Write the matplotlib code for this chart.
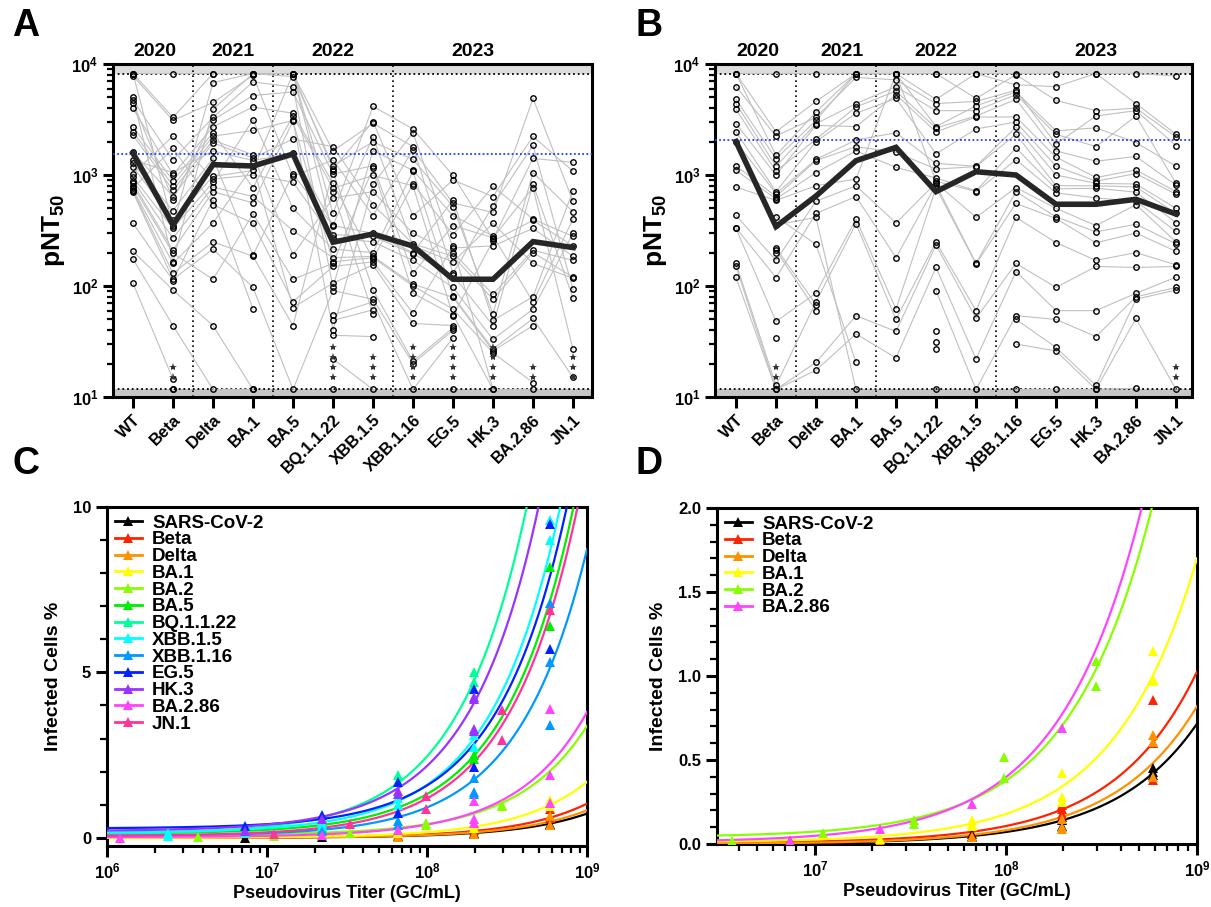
import numpy as np
import matplotlib
matplotlib.use('Agg')
import matplotlib.pyplot as plt
from matplotlib.ticker import LogLocator, NullFormatter, FuncFormatter, MultipleLocator, FixedLocator
from matplotlib.lines import Line2D

plt.rcParams['font.family'] = ['Liberation Sans', 'DejaVu Sans']
plt.rcParams['font.weight'] = 'bold'
plt.rcParams['mathtext.fontset'] = 'custom'
plt.rcParams['mathtext.rm'] = 'Liberation Sans:bold'
plt.rcParams['mathtext.bf'] = 'Liberation Sans:bold'
plt.rcParams['mathtext.it'] = 'Liberation Sans:bold'

N = np.nan
# ---------------- Panels A / B data ----------------
variants = ['WT', 'Beta', 'Delta', 'BA.1', 'BA.5', 'BQ.1.1.22', 'XBB.1.5',
            'XBB.1.16', 'EG.5', 'HK.3', 'BA.2.86', 'JN.1']
years = ['2020', '2021', '2022', '2023']
limit_hi = 8200
limit_lo = 11.7

subjects_A = [
    [8200, 8200, 8200, 8200, 8200, 450, 4150, 2600, 990, 264, 1410, 1300],
    [8200, 3300, 8200, 8200, 8200, 1130, 3030, 430, 900, 640, 2230, 1080],
    [8200, 350, 6800, 8200, 8200, 1650, 2920, 1800, 130, 530, 1850, 93],
    [7800, 3100, 4500, 7900, 970, 1365, 430, 1690, 560, 460, 4900, 580],
    [5000, 166, 3900, 8200, 7700, 1210, 1990, 1380, 520, 56, 1050, 466],
    [4740, 1370, 3300, 6900, 6200, 98, 1660, 1100, 430, 282, 72, 400],
    [4450, 600, 3130, 5200, 5600, 1020, 1210, 130, 350, 272, 770, 27],
    [3990, 1010, 2720, 4100, 3600, 842, 175, 830, 290, 790, 400, 280],
    [2720, 890, 2400, 770, 3400, 760, 990, 800, 54, 255, 390, 230],
    [2450, 800, 2240, 2520, 3100, 40, 830, 2400, 220, 230, 330, 185],
    [2280, 730, 2060, 1520, 190, 620, 708, 298, 200, 84, 210, 170],
    [1600, 640, 1950, 1420, 2110, 1800, 540, 240, 185, 76, 200, 120],
    [1365, 1050, 1650, 1350, 1570, 355, 2200, 230, 165, 367, 160, 117],
    [1270, 477, 1420, 190, 1020, 350, 298, 200, 596, 49, 80, 720],
    [1190, 390, 970, 1100, 8200, 290, 280, 195, 125, 44, 830, 78],
    [1030, 2240, 920, 1000, 860, 270, 250, 170, 97, 33, 62, 298],
    [960, 330, 860, 3150, 500, 215, 200, 1080, 81, 27, 51, 15],
    [890, 270, 780, 640, 315, 180, 185, 104, 79, 26, 44, N],
    [842, 210, 708, 560, 3050, 165, 180, 100, 62, 25, 13.5, N],
    [800, 197, 115, 447, 115, 160, 1150, 86, 55, 11.7, 11.7, N],
    [760, 1740, 540, 367, 72, 150, 165, 57, 228, 11.7, N, N],
    [740, 160, 370, 1200, 64, 106, 155, 46, 44, N, N, N],
    [720, 130, 250, 185, 44, 1080, 92, 21, 42, N, N, N],
    [700, 115, 215, 97, 11.7, 91, 76, 20, 40, N, N, N],
    [367, 112, 600, 62, N, 55, 72, 11.7, 34, N, N, N],
    [205, 92, 44, 11.7, N, 49, 61, N, 11.7, N, N, N],
    [175, 44, 11.7, 11.7, N, 708, 56, N, N, N, N, N],
    [106, 14.5, N, N, N, 36, 35, N, N, N, N, N],
    [N, 11.7, N, N, N, 22, 11.7, N, N, N, N, N],
    [N, 11.7, N, N, N, 11.7, N, N, N, N, N, N],
]
median_A = [1570, 355, 1240, 1205, 1545, 248, 294, 229, 115, 115, 251, 222]
ref_A = 1550
stars_A = [0, 2, 0, 0, 0, 4, 3, 4, 4, 4, 2, 3]

subjects_B = [
    [8200, 8200, 8200, 8200, 8200, 8200, 8200, 8200, 8200, 8200, 8200, 7800],
    [8200, 2450, 4600, 8200, 8200, 4800, 8200, 6500, 6250, 8200, 4400, 2330],
    [8200, 1500, 3700, 8200, 8200, 8200, 4900, 8000, 4700, 3800, 4000, 2200],
    [6250, 2250, 3300, 7570, 7200, 4400, 4600, 5800, 1900, 3400, 3800, 1840],
    [4800, 1400, 3100, 8200, 8200, 2730, 4200, 5600, 2500, 2660, 1960, 1200],
    [4400, 1200, 2900, 4400, 6250, 3800, 3800, 5300, 2330, 1800, 3400, 840],
    [3900, 1080, 2100, 4100, 5700, 2650, 3400, 4800, 1650, 1330, 1470, 810],
    [2900, 1000, 2800, 2730, 5300, 2440, 3330, 3330, 1450, 950, 1110, 708],
    [2450, 708, 2000, 3600, 4900, 1550, 2600, 3000, 1200, 880, 1030, 670],
    [2000, 680, 1380, 2070, 2400, 1270, 1200, 2700, 1000, 840, 830, 500],
    [1210, 640, 1350, 1800, 1600, 1130, 1190, 2330, 800, 800, 780, 450],
    [1100, 610, 1050, 1650, 1170, 940, 720, 1750, 750, 760, 700, 372],
    [780, 590, 800, 920, 8200, 880, 710, 1370, 690, 622, 580, 310],
    [433, 170, 580, 800, 370, 850, 415, 770, 500, 350, 540, 250],
    [335, 119, 450, 640, 180, 820, 160, 708, 420, 307, 360, 240],
    [330, 48, 86, 400, 62, 770, 158, 555, 405, 245, 300, 205],
    [160, 12.7, 72, 365, 50, 250, 60, 415, 246, 170, 200, 155],
    [150, 11.7, 20.5, 54, 39, 234, 51, 160, 97, 150, 147, 150],
    [120, 11.7, 17.4, 37, 22.5, 147, 22, 135, 60, 60, 86, 120],
    [N, 420, 237, 20.5, N, 91, 11.7, 54, 50, 35, 80, 97],
    [N, 355, 415, 11.7, N, 39, N, 50, 28, 12.7, 76, 92],
    [N, 220, 68, N, N, 31, N, 30, 26, 11.7, 51, 11.7],
    [N, 210, 60, N, N, 27, N, 11.7, 11.7, 11.7, 12, N],
    [N, 200, N, N, N, 11.7, N, N, N, N, N, N],
    [N, 34, N, N, N, N, N, N, N, N, N, N],
]
median_B = [2000, 343, 647, 1345, 1775, 708, 1070, 1000, 545, 545, 604, 445]
ref_B = 2050
stars_B = [0, 2, 0, 0, 0, 0, 0, 0, 0, 0, 0, 2]
star_levels = [15.2, 18.7, 23.1, 28.4]

# ---------------- Panels C / D data ----------------
names_C = ['SARS-CoV-2', 'Beta', 'Delta', 'BA.1', 'BA.2', 'BA.5', 'BQ.1.1.22',
           'XBB.1.5', 'XBB.1.16', 'EG.5', 'HK.3', 'BA.2.86', 'JN.1']
colors_C = ['#000000', '#FF2200', '#FF9100', '#FFFF00', '#88FF00', '#00EE00',
            '#00FF99', '#00FFFF', '#0099FF', '#0022FF', '#9933FF', '#FF44FF', '#FF3399']
# fitted linear model: pct = intercept + slope * titer/1e9
intercept_C = [0.0, 0.0, 0.0, 0.0, 0.08, 0.12, 0.1, 0.15, 0.05, 0.28, 0.2, 0.02, 0.05]
slope_C = [0.73, 1.03, 0.83, 1.69, 3.3, 12.0, 23.6, 14.5, 8.67, 13.0, 19.7, 3.78, 11.4]

ptsC_var = [0, 0, 0, 0, 0, 0, 0,
            1, 1, 1, 1,
            2, 2, 2, 2,
            3, 3, 3, 3, 3,
            4, 4, 4, 4, 4, 4, 4,
            5, 5, 5, 5, 5, 5,
            6, 6, 6, 6, 6, 6, 6,
            7, 7, 7, 7, 7, 7, 7, 7, 7, 7, 7,
            8, 8, 8, 8, 8, 8, 8, 8, 8,
            9, 9, 9, 9, 9, 9, 9, 9,
            10, 10, 10, 10, 10, 10, 10, 10,
            11, 11, 11, 11, 11, 11, 11, 11, 11,
            12, 12, 12, 12, 12, 12, 12]
ptsC_titer = [5.9e8, 5.9e8, 1.97e8, 1.97e8, 6.6e7, 2.2e7, 7.3e6,
              5.9e8, 5.9e8, 1.97e8, 6.6e7,
              5.9e8, 5.9e8, 1.97e8, 6.6e7,
              5.9e8, 5.9e8, 1.97e8, 1.97e8, 6.6e7,
              2.95e8, 2.95e8, 9.8e7, 9.8e7, 3.3e7, 1.1e7, 3.7e6,
              5.9e8, 5.9e8, 1.97e8, 1.97e8, 6.6e7, 2.2e7,
              1.97e8, 1.97e8, 6.6e7, 6.6e7, 2.2e7, 7.3e6, 2.4e6,
              5.9e8, 5.9e8, 1.97e8, 1.97e8, 6.6e7, 6.6e7, 2.2e7, 2.2e7, 7.3e6, 2.4e6, 2.4e6,
              5.9e8, 5.9e8, 5.9e8, 1.97e8, 1.97e8, 1.97e8, 6.6e7, 6.6e7, 2.2e7,
              5.9e8, 5.9e8, 1.97e8, 1.97e8, 6.6e7, 6.6e7, 2.2e7, 7.3e6,
              1.97e8, 1.97e8, 1.97e8, 1.97e8, 6.6e7, 6.6e7, 2.2e7, 7.3e6,
              5.9e8, 5.9e8, 5.9e8, 1.97e8, 1.97e8, 1.97e8, 6.6e7, 2.2e7, 1.2e6,
              5.9e8, 2.95e8, 2.95e8, 9.8e7, 9.8e7, 3.3e7, 1.1e7]
ptsC_pct = [0.42, 0.38, 0.15, 0.12, 0.05, 0.02, 0.0,
            0.86, 0.6, 0.22, 0.05,
            0.65, 0.4, 0.1, 0.03,
            1.15, 0.97, 0.42, 0.28, 0.13,
            1.0, 0.95, 0.46, 0.39, 0.14, 0.065, 0.02,
            8.2, 6.4, 2.5, 2.38, 1.0, 0.3,
            5.0, 4.7, 1.9, 1.72, 0.5, 0.2, 0.12,
            9.6, 9.0, 3.1, 2.73, 1.2, 1.0, 0.46, 0.35, 0.15, 0.15, 0.05,
            7.1, 5.3, 3.4, 1.82, 1.37, 1.32, 0.5, 0.4, 0.2,
            9.5, 5.7, 4.5, 2.13, 1.67, 0.76, 0.7, 0.35,
            4.27, 4.2, 3.3, 3.24, 1.42, 1.32, 0.56, 0.2,
            3.9, 1.9, 1.05, 1.11, 0.56, 0.46, 0.24, 0.09, 0.0,
            6.9, 3.85, 2.95, 1.27, 0.86, 0.42, 0.1]

names_D = ['SARS-CoV-2', 'Beta', 'Delta', 'BA.1', 'BA.2', 'BA.2.86']
colors_D = ['#000000', '#FF2200', '#FF9100', '#FFFF00', '#88FF00', '#FF44FF']
intercept_D = [0.0, 0.005, 0.0, 0.01, 0.04, 0.01]
slope_D = [0.716, 1.02, 0.82, 1.69, 3.38, 3.88]

ptsD_var = [0, 0, 0, 0, 0, 0, 0, 0, 0, 0,
            1, 1, 1, 1, 1, 1, 1, 1, 1,
            2, 2, 2, 2, 2, 2, 2, 2,
            3, 3, 3, 3, 3, 3, 3, 3, 3, 3, 3,
            4, 4, 4, 4, 4, 4, 4, 4, 4,
            5, 5, 5, 5]
ptsD_titer = [5.9e8, 5.9e8, 5.9e8, 1.97e8, 1.97e8, 1.97e8, 6.6e7, 6.6e7, 2.2e7, 7.4e6,
              5.9e8, 5.9e8, 5.9e8, 1.97e8, 1.97e8, 1.97e8, 6.6e7, 2.2e7, 7.4e6,
              5.9e8, 5.9e8, 5.9e8, 1.97e8, 1.97e8, 1.97e8, 6.6e7, 2.2e7,
              5.9e8, 5.9e8, 5.9e8, 1.97e8, 1.97e8, 1.97e8, 6.6e7, 6.6e7, 6.6e7, 2.2e7, 7.4e6,
              2.95e8, 2.95e8, 9.8e7, 9.8e7, 3.3e7, 3.3e7, 1.1e7, 3.7e6, 3.7e6,
              1.97e8, 6.6e7, 2.2e7, 7.4e6]
ptsD_pct = [0.45, 0.43, 0.41, 0.16, 0.14, 0.11, 0.06, 0.04, 0.025, 0.015,
            0.86, 0.6, 0.38, 0.23, 0.21, 0.18, 0.05, 0.02, 0.01,
            0.65, 0.61, 0.4, 0.15, 0.1, 0.09, 0.04, 0.01,
            1.15, 0.98, 0.97, 0.42, 0.28, 0.25, 0.14, 0.12, 0.11, 0.03, 0.01,
            1.09, 0.94, 0.52, 0.39, 0.14, 0.12, 0.065, 0.02, 0.01,
            0.69, 0.24, 0.09, 0.02]

# ---------------- Figure ----------------
W, H = 1211, 907
fig = plt.figure(figsize=(W / 100, H / 100), dpi=100)


def frac(l, t, r, b):
    return [l / W, 1 - b / H, (r - l) / W, (b - t) / H]


axA = fig.add_axes(frac(113, 64, 592, 397))
axB = fig.add_axes(frac(715, 64, 1192, 397))
axC = fig.add_axes(frac(107, 507, 587, 846))
axD = fig.add_axes(frac(717, 508, 1197, 844))

SPW = 2.2


def style_spines(ax):
    for s in ax.spines.values():
        s.set_linewidth(SPW)


def draw_pnt(ax, rows, med, ref, stars, xlim, year_x):
    x = np.arange(len(variants))
    ax.set_yscale('log')
    ax.set_ylim(10, 1e4)
    ax.set_xlim(*xlim)
    ax.axhspan(limit_hi, 1e4, color='#dcdcdc', zorder=0, lw=0)
    ax.axhspan(10, limit_lo, color='#c6c6c6', zorder=0, lw=0)
    ax.axhline(limit_hi, color='k', ls=(0, (1, 1.6)), lw=1.3, zorder=1)
    ax.axhline(limit_lo, color='k', ls=(0, (1, 1.6)), lw=1.3, zorder=1)
    for xv in [1.5, 3.5, 6.5]:
        ax.axvline(xv, color='k', ls=(0, (1, 2)), lw=1.2, zorder=1)
    for r in rows:
        ax.plot(x, np.array(r, float), color='#c0c0c0', lw=0.8, zorder=2)
    for r in rows:
        ax.plot(x, np.array(r, float), ls='none', marker='o', mfc='none',
                mec='black', ms=3.9, mew=1.0, zorder=4)
    ax.axhline(ref, color='#2040ff', ls=(0, (1, 1.3)), lw=1.3, zorder=3)
    ax.plot(x, med, color='#262626', lw=4, zorder=5, solid_joinstyle='miter')
    for xi, n in enumerate(stars):
        if n:
            ax.plot([xi] * n, star_levels[:n], ls='none', marker='*', color='#333333',
                    ms=6, mew=0, zorder=4)
    for yl, xp in zip(years, year_x):
        ax.text(xp, 1.012, yl, transform=ax.get_xaxis_transform(), ha='center',
                va='bottom', fontsize=14, fontweight='bold')
    ax.set_xticks(x)
    ax.set_xticklabels(variants, rotation=45, ha='right', rotation_mode='anchor',
                       fontsize=12, fontweight='bold')
    ax.yaxis.set_major_locator(FixedLocator([10, 100, 1000, 10000]))
    ax.yaxis.set_major_formatter(FuncFormatter(
        lambda v, p: r'$\mathbf{10^{%d}}$' % int(round(np.log10(v)))))
    ax.yaxis.set_minor_locator(LogLocator(base=10, subs=np.arange(2, 10)))
    ax.yaxis.set_minor_formatter(NullFormatter())
    ax.tick_params(axis='y', which='major', length=7, width=SPW, labelsize=12)
    ax.tick_params(axis='y', which='minor', length=4.5, width=1.6)
    ax.tick_params(axis='x', which='major', length=8, width=SPW, pad=3)
    ax.set_ylabel(r'$\mathbf{pNT_{50}}$', fontsize=19, labelpad=3)
    style_spines(ax)


draw_pnt(axA, subjects_A, median_A, ref_A, stars_A, (-0.5, 11.475),
         [0.55, 2.5, 5.0, 8.5])
draw_pnt(axB, subjects_B, median_B, ref_B, stars_B, (-0.525, 11.4),
         [0.55, 2.65, 5.0, 9.0])


def draw_inf(ax, names, colors, icpt, slope, pv, pt, pp, xlim, ylim):
    xs = np.logspace(6, 9, 500)
    for i, (nm, c) in enumerate(zip(names, colors)):
        ax.plot(xs, icpt[i] + slope[i] * xs / 1e9, color=c, lw=1.6, zorder=3)
    pv = np.array(pv)
    pt = np.array(pt)
    pp = np.array(pp)
    for i, c in enumerate(colors):
        m = pv == i
        ax.plot(pt[m], pp[m], ls='none', marker='^', color=c, ms=7, mew=0,
                zorder=4, clip_on=True)
    ax.set_xscale('log')
    ax.set_xlim(*xlim)
    ax.set_ylim(*ylim)
    handles = [Line2D([0], [0], color=c, lw=2, marker='^', ms=6.5, mew=0)
               for c in colors]
    ax.legend(handles, names, loc='upper left', frameon=False,
              prop={'weight': 'bold', 'size': 13.5}, labelspacing=-0.02,
              handlelength=1.45, handletextpad=0.55, borderaxespad=0.25,
              borderpad=0.15)
    ax.xaxis.set_major_locator(FixedLocator([1e6, 1e7, 1e8, 1e9]))
    ax.xaxis.set_major_formatter(FuncFormatter(
        lambda v, p: r'$\mathbf{10^{%d}}$' % int(round(np.log10(v)))))
    ax.xaxis.set_minor_locator(LogLocator(base=10, subs=np.arange(2, 10)))
    ax.xaxis.set_minor_formatter(NullFormatter())
    ax.tick_params(axis='both', which='major', length=8, width=SPW, labelsize=12)
    ax.tick_params(axis='both', which='minor', length=5, width=1.6)
    ax.set_xlabel('Pseudovirus Titer (GC/mL)', fontsize=13, fontweight='bold',
                  labelpad=2)
    ax.set_ylabel('Infected Cells %', fontsize=14, fontweight='bold', labelpad=8)
    style_spines(ax)


draw_inf(axC, names_C, colors_C, intercept_C, slope_C, ptsC_var, ptsC_titer,
         ptsC_pct, (1e6, 1e9), (-0.25, 10))
axC.yaxis.set_major_locator(FixedLocator([0, 5, 10]))
axC.yaxis.set_minor_locator(MultipleLocator(1))

draw_inf(axD, names_D, colors_D, intercept_D, slope_D, ptsD_var, ptsD_titer,
         ptsD_pct, (3.07e6, 1e9), (0, 2))
axD.yaxis.set_major_locator(MultipleLocator(0.5))
axD.yaxis.set_minor_locator(MultipleLocator(0.1))
axD.yaxis.set_major_formatter(FuncFormatter(lambda v, p: '%.1f' % v))

for lbl, xp, yp in [('A', 12, 8), ('B', 636, 8), ('C', 12, 446), ('D', 636, 446)]:
    fig.text(xp / W, 1 - yp / H, lbl, fontsize=27, fontweight='bold',
             ha='left', va='top')

fig.savefig('out.png', dpi=100)
